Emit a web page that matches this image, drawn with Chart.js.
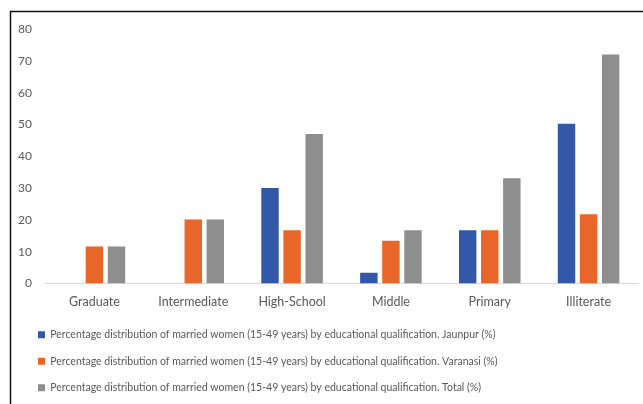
<!DOCTYPE html>
<html lang="en">
<head>
  <meta charset="UTF-8">
  <title>Married women by educational qualification</title>
  <script src="https://cdn.jsdelivr.net/npm/chart.js@4.4.1/dist/chart.umd.min.js"></script>
  <style>
    html, body {
      margin: 0;
      padding: 0;
      background: #fff;
    }
    .wrap {
      width: 643px;
      height: 404px;
      position: relative;
    }
  </style>
</head>
<body>
  <div class="wrap">
    <canvas id="myChart" width="643" height="404"></canvas>
  </div>

  <script>
    const categories = ['Graduate', 'Intermediate', 'High-School', 'Middle', 'Primary', 'Illiterate'];
    const jaunpur = [0, 0, 30, 3.4, 16.7, 50.2];
    const varanasi = [11.6, 20.1, 16.7, 13.4, 16.7, 21.8];
    const total = [11.6, 20.1, 47, 16.7, 33.1, 72];
    const yTicks = [0, 10, 20, 30, 40, 50, 60, 70, 80];

    const seriesNames = [
      'Percentage distribution of married women (15-49 years) by educational qualification. Jaunpur (%)',
      'Percentage distribution of married women (15-49 years) by educational qualification. Varanasi (%)',
      'Percentage distribution of married women (15-49 years) by educational qualification. Total (%)'
    ];

    const textColor = '#595959';
    const fontFamily = 'Lato, "Open Sans", sans-serif';

    // black frame on top and left edge, as in the source figure
    const framePlugin = {
      id: 'frame',
      afterLayout(chart) {
        // legend sits a bit right of the axis labels and tucks up under them
        const lg = chart.legend;
        lg.left += 7;
        lg.top -= 7;
        lg.bottom -= 7;
      },
      afterDraw(chart) {
        const ctx = chart.ctx;
        ctx.save();
        ctx.strokeStyle = '#111';
        ctx.lineWidth = 1.5;
        ctx.beginPath();
        ctx.moveTo(10.5, 404);
        ctx.lineTo(10.5, 11.5);
        ctx.lineTo(643, 11.5);
        ctx.stroke();
        ctx.restore();
      }
    };

    const ctx = document.getElementById('myChart').getContext('2d');
    const myChart = new Chart(ctx, {
      type: 'bar',
      data: {
        labels: categories,
        datasets: [
          { label: seriesNames[0], data: jaunpur, backgroundColor: '#3458a8' },
          { label: seriesNames[1], data: varanasi, backgroundColor: '#e9662a' },
          { label: seriesNames[2], data: total, backgroundColor: '#8e8e8e' }
        ]
      },
      options: {
        responsive: false,
        animation: false,
        layout: {
          padding: { left: 15, right: 5, top: 29, bottom: -6 }
        },
        datasets: {
          bar: {
            categoryPercentage: 0.67,
            barPercentage: 0.79
          }
        },
        scales: {
          x: {
            grid: { display: false, drawTicks: false },
            border: { display: true, color: '#d9d9d9', width: 1 },
            ticks: {
              color: textColor,
              font: { family: fontFamily, size: 12.5 },
              padding: 11,
              maxRotation: 0
            }
          },
          y: {
            min: 0,
            max: 80,
            afterBuildTicks(scale) {
              scale.ticks = yTicks.map(v => ({ value: v }));
            },
            afterFit(scale) {
              scale.width = 30;
            },
            grid: { display: false, drawTicks: false },
            border: { display: false },
            ticks: {
              color: textColor,
              font: { family: fontFamily, size: 12 },
              padding: 13
            }
          }
        },
        plugins: {
          legend: {
            position: 'bottom',
            align: 'start',
            labels: {
              boxWidth: 7,
              boxHeight: 7,
              padding: 16,
              color: textColor,
              font: { family: fontFamily, size: 10.5 }
            }
          },
          tooltip: { enabled: false }
        }
      },
      plugins: [framePlugin]
    });
  </script>
</body>
</html>
